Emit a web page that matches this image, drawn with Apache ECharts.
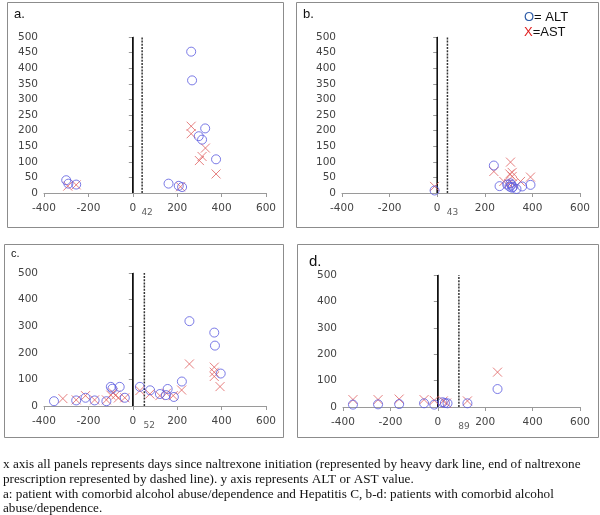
<!DOCTYPE html>
<html>
<head>
<meta charset="utf-8">
<script src="https://cdn.jsdelivr.net/npm/echarts@6/dist/echarts.min.js"></script>
<style>
  html, body { margin: 0; padding: 0; background: #fff; }
  #chart { width: 600px; height: 515px; }
</style>
</head>
<body>
<div id="chart"></div>
<script>
// ALT (circles) and AST (crosses) per panel, [days, value]
var aAlt = [[-300,41],[-290,30],[-255,27],[161,30],[207,23],[222,19],[263,453],[267,361],[297,182],[312,171],[326,207],[375,108]];
var aAst = [[-293,22],[-255,26],[215,20],[263,214],[263,190],[300,104],[312,117],[327,144],[375,61]];
var bAlt = [[-11,8],[238,88],[262,22],[294,27],[305,20],[308,31],[312,26],[315,17],[318,20],[333,13],[357,21],[392,26]];
var bAst = [[-11,21],[238,69],[280,37],[300,30],[305,61],[308,99],[315,66],[315,53],[318,30],[350,37],[392,51]];
var cAlt = [[-355,18],[-255,21],[-213,31],[-172,21],[-119,18],[-99,72],[-92,65],[-59,72],[-36,31],[32,72],[78,59],[122,45],[149,41],[157,64],[185,34],[221,92],[255,319],[367,276],[370,227],[396,122]];
var cAst = [[-315,28],[-255,23],[-213,39],[-172,23],[-119,23],[-99,41],[-89,50],[-77,41],[-65,30],[-36,31],[32,58],[77,45],[122,39],[152,48],[182,39],[220,60],[255,158],[367,146],[367,127],[367,111],[393,73]];
var dAlt = [[-358,9],[-252,10],[-163,11],[-58,14],[-15,9],[20,18],[30,15],[41,14],[125,14],[252,68]];
var dAst = [[-358,28],[-252,28],[-163,30],[-58,28],[-15,25],[23,23],[37,15],[125,23],[252,132]];

// end of naltrexone prescription (days) per panel
var endDays = [42, 43, 52, 89];
var panelNames = ['a.', 'b.', 'c.', 'd.'];
var yIntervals = [50, 50, 100, 100];
var xMin = -400, xMax = 600, xStep = 200;
var yMax = 500;

var caption = [
  'x axis all panels represents days since naltrexone initiation (represented by heavy dark line, end of naltrexone',
  'prescription represented by dashed line). y axis represents ALT or AST value.',
  'a: patient with comorbid alcohol abuse/dependence and Hepatitis C, b-d: patients with comorbid alcohol',
  'abuse/dependence.'
];

var chart = echarts.init(document.getElementById('chart'));

var grids = [
  { left: 44, top: 37, width: 222, height: 156 },
  { left: 342, top: 37, width: 238, height: 156 },
  { left: 44, top: 273, width: 222, height: 133 },
  { left: 343, top: 275, width: 237, height: 132 }
];

var altData = [aAlt, bAlt, cAlt, dAlt];
var astData = [aAst, bAst, cAst, dAst];

var xAxes = [], yAxes = [], series = [];
var axisFont = { fontFamily: 'DejaVu Sans', fontSize: 10.5, color: '#444' };

grids.forEach(function (g, i) {
    xAxes.push({
        gridIndex: i, type: 'value', min: xMin, max: xMax, interval: xStep,
        axisLine: { onZero: false, lineStyle: { color: '#9a9a9a' } },
        axisTick: { show: true, length: 4, lineStyle: { color: '#9a9a9a' } },
        splitLine: { show: false },
        axisLabel: Object.assign({ margin: 10 }, axisFont)
    });
    yAxes.push({
        gridIndex: i, type: 'value', min: 0, max: yMax, interval: yIntervals[i],
        axisLine: { show: true, lineStyle: { color: '#9a9a9a' } },
        axisTick: { show: true, length: 4, lineStyle: { color: '#9a9a9a' } },
        splitLine: { show: false },
        axisLabel: Object.assign({ margin: 6 }, axisFont)
    });

    // naltrexone initiation (solid) and end (dashed)
    series.push({
        type: 'line', xAxisIndex: i, yAxisIndex: i, symbol: 'none', silent: true,
        lineStyle: { color: '#111', width: 1.6 },
        data: [[0, 0], [0, yMax]], z: 1
    });
    series.push({
        type: 'line', xAxisIndex: i, yAxisIndex: i, symbol: 'none', silent: true,
        lineStyle: { color: '#333', width: 1.5, type: [2, 1.2] },
        data: [[endDays[i], 0], [endDays[i], yMax]],
        z: 1
    });
    // day label under the dashed line
    series.push({
        type: 'scatter', xAxisIndex: i, yAxisIndex: i, symbolSize: 0, silent: true,
        label: { show: true, position: 'bottom', distance: 15, offset: [5, 0], formatter: String(endDays[i]),
            fontFamily: 'DejaVu Sans', fontSize: 9, color: '#333' },
        data: [[endDays[i], 0]], z: 2
    });

    series.push({
        name: 'AST', type: 'scatter', xAxisIndex: i, yAxisIndex: i,
        symbol: 'path://M0,0L10,10M10,0L0,10', symbolSize: 9,
        itemStyle: { color: 'none', borderColor: '#e06060', borderWidth: 1 },
        data: astData[i], z: 3
    });
    series.push({
        name: 'ALT', type: 'scatter', xAxisIndex: i, yAxisIndex: i,
        symbol: 'circle', symbolSize: 9,
        itemStyle: { color: 'none', borderColor: '#5a5ae0', borderWidth: 1 },
        data: altData[i], z: 4
    });
});

var graphics = [];
// panel frames
var frames = [
    { x: 7, y: 2, w: 276, h: 225 },
    { x: 296, y: 2, w: 302, h: 225 },
    { x: 4, y: 244, w: 279, h: 193 },
    { x: 297, y: 244, w: 301, h: 193 }
];
frames.forEach(function (f) {
    graphics.push({ type: 'rect', shape: { x: f.x + 0.5, y: f.y + 0.5, width: f.w, height: f.h },
        style: { fill: 'none', stroke: '#8c8c8c', lineWidth: 1 }, silent: true });
});
var namePos = [[14, 8, 13], [303, 8, 13], [11, 248, 11], [309, 254, 15]];
namePos.forEach(function (p, i) {
    graphics.push({ type: 'text', x: p[0], y: p[1], style: { text: panelNames[i], font: p[2] + 'px "Liberation Sans"', fill: '#111' } });
});
// legend text
graphics.push({ type: 'text', x: 524, y: 11, style: { text: '{o|O}= ALT', rich: { o: { fill: '#2f5da8', font: '13px "Liberation Sans"' } }, font: '13px "Liberation Sans"', fill: '#111' } });
graphics.push({ type: 'text', x: 524, y: 26, style: { text: '{x|X}=AST', rich: { x: { fill: '#e02020', font: '13px "Liberation Sans"' } }, font: '13px "Liberation Sans"', fill: '#111' } });

caption.forEach(function (line, i) {
    graphics.push({ type: 'text', x: 3, y: 458 + i * 14.8, style: { text: line, font: '13.2px "Liberation Serif"', fill: '#111' } });
});

chart.setOption({
    animation: false,
    backgroundColor: '#fff',
    grid: grids,
    xAxis: xAxes,
    yAxis: yAxes,
    series: series,
    graphic: graphics
});
</script>
</body>
</html>
